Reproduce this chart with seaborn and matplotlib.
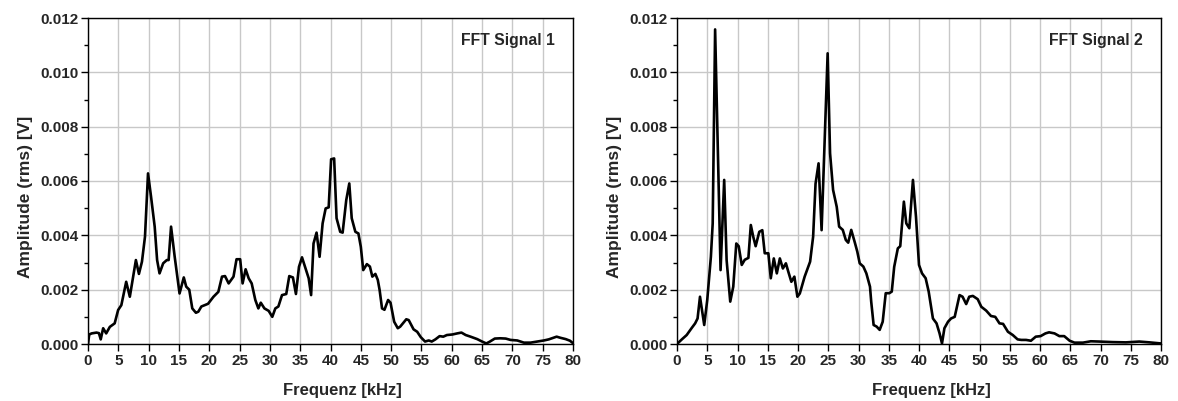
"""Two FFT amplitude spectra side by side."""

import matplotlib.pyplot as plt
import numpy as np
import pandas as pd
import seaborn as sns
from matplotlib.ticker import MultipleLocator

# frequency in kHz, amplitude in mV (rms)
freq_1 = [0.0, 0.2, 0.6, 1.4, 1.8, 2.1, 2.5, 3.0, 3.6, 4.4, 4.97, 5.5, 6.3, 6.9, 7.9,
          8.4, 8.9, 9.4, 9.9, 10.4, 11.0, 11.4, 11.8, 12.4, 13.0, 13.3, 13.7, 14.3,
          15.1, 15.8, 16.2, 16.7, 17.2, 17.8, 18.2, 18.7, 19.8, 20.7, 21.5, 22.1,
          22.6, 23.2, 24.0, 24.5, 25.1, 25.5, 26.0, 26.5, 27.0, 27.6, 28.1, 28.5,
          29.1, 29.8, 30.4, 30.9, 31.4, 32.0, 32.7, 33.2, 33.8, 34.3, 34.8, 35.3,
          35.8, 36.4, 36.8, 37.2, 37.7, 38.2, 38.7, 39.2, 39.7, 40.1, 40.6, 41.0,
          41.6, 42.0, 42.6, 43.1, 43.5, 44.1, 44.6, 45.0, 45.4, 46.0, 46.5, 46.9,
          47.4, 47.8, 48.1, 48.5, 48.9, 49.5, 49.9, 50.5, 51.1, 51.5, 52.5, 52.9,
          53.7, 54.3, 54.9, 55.6, 56.2, 56.7, 57.3, 58.0, 58.6, 59.2, 60.1, 60.9,
          61.6, 62.3, 63.1, 64.2, 65.0, 65.7, 66.3, 67.1, 68.0, 68.9, 69.7, 70.8,
          71.9, 73.0, 74.1, 75.2, 76.0, 77.3, 77.9, 78.8, 79.5, 80.0]
amp_1_mv = [0.0, 0.35, 0.39, 0.42, 0.40, 0.17, 0.58, 0.39, 0.63, 0.76, 1.25, 1.43,
            2.29, 1.74, 3.09, 2.58, 3.03, 3.95, 6.28, 5.42, 4.32, 3.09, 2.6, 2.97,
            3.09, 3.09, 4.32, 3.21, 1.86, 2.45, 2.11, 2.0, 1.31, 1.15, 1.19, 1.38,
            1.48, 1.74, 1.92, 2.48, 2.5, 2.23, 2.48, 3.12, 3.12, 2.23, 2.75, 2.42,
            2.23, 1.62, 1.31, 1.52, 1.31, 1.22, 1.0, 1.31, 1.38, 1.80, 1.84, 2.5,
            2.45, 1.84, 2.84, 3.19, 2.84, 2.42, 1.80, 3.7, 4.1, 3.21, 4.44, 4.99,
            5.03, 6.8, 6.83, 4.63, 4.13, 4.1, 5.3, 5.91, 4.63, 4.13, 4.07, 3.58,
            2.72, 2.94, 2.85, 2.48, 2.58, 2.36, 1.99, 1.31, 1.26, 1.62, 1.52, 0.82,
            0.58, 0.64, 0.91, 0.88, 0.54, 0.45, 0.25, 0.09, 0.13, 0.09, 0.17, 0.29,
            0.27, 0.33, 0.35, 0.39, 0.42, 0.33, 0.27, 0.18, 0.09, 0.02, 0.09, 0.2,
            0.21, 0.2, 0.15, 0.13, 0.05, 0.05, 0.09, 0.13, 0.17, 0.27, 0.23, 0.18,
            0.12, 0.03]

freq_2 = [0.0, 0.8, 1.6, 2.4, 3.0, 3.4, 3.8, 4.5, 5.0, 5.6, 5.9, 6.3, 7.2, 7.8, 8.2,
          8.8, 9.3, 9.8, 10.2, 10.7, 11.2, 11.8, 12.2, 12.6, 13.0, 13.6, 14.1, 14.5,
          15.1, 15.5, 16.0, 16.5, 17.0, 17.5, 18.0, 18.4, 18.9, 19.4, 19.9, 20.3,
          21.1, 22.0, 22.5, 22.9, 23.4, 23.9, 24.9, 25.3, 25.8, 26.4, 26.8, 27.4,
          27.9, 28.3, 28.8, 29.4, 29.8, 30.2, 30.8, 31.3, 31.9, 32.1, 32.5, 33.0,
          33.5, 34.0, 34.5, 35.1, 35.5, 35.9, 36.5, 36.9, 37.5, 37.9, 38.4, 39.0,
          39.5, 40.0, 40.5, 41.1, 41.6, 42.3, 42.9, 43.4, 43.8, 44.2, 44.8, 45.3,
          45.9, 46.7, 47.2, 47.8, 48.3, 48.9, 49.7, 50.3, 51.1, 51.9, 52.6, 53.3,
          53.9, 54.7, 55.5, 56.3, 56.9, 57.7, 58.5, 59.3, 60.1, 60.9, 61.5, 62.4,
          63.2, 64.0, 64.9, 65.7, 67.1, 68.4, 69.8, 72.0, 74.2, 76.4, 78.1, 80.0]
amp_2_mv = [0.0, 0.17, 0.33, 0.58, 0.76, 0.94, 1.74, 0.70, 1.62, 3.21, 4.44, 11.58,
            2.72, 6.04, 3.09, 1.56, 2.11, 3.7, 3.6, 2.91, 3.1, 3.17, 4.38, 3.95,
            3.6, 4.13, 4.19, 3.34, 3.34, 2.42, 3.15, 2.6, 3.15, 2.78, 2.97, 2.66,
            2.29, 2.48, 1.74, 1.86, 2.48, 3.03, 3.95, 5.9, 6.65, 4.19, 10.7, 7.02,
            5.67, 5.05, 4.32, 4.2, 3.83, 3.73, 4.2, 3.73, 3.4, 2.97, 2.85, 2.6,
            2.11, 1.56, 0.7, 0.64, 0.52, 0.82, 1.87, 1.87, 1.93, 2.84, 3.52, 3.6,
            5.24, 4.44, 4.26, 6.04, 4.69, 2.91, 2.6, 2.42, 1.93, 0.94, 0.76, 0.39,
            0.02, 0.58, 0.82, 0.94, 1.0, 1.80, 1.74, 1.47, 1.74, 1.77, 1.65, 1.37,
            1.23, 1.03, 1.0, 0.76, 0.74, 0.45, 0.33, 0.17, 0.15, 0.15, 0.12, 0.27,
            0.29, 0.39, 0.43, 0.39, 0.29, 0.29, 0.12, 0.05, 0.05, 0.1, 0.09, 0.07,
            0.06, 0.09, 0.06, 0.02]

panel_titles = ["FFT Signal 1", "FFT Signal 2"]
x_ticks = [0, 5, 10, 15, 20, 25, 30, 35, 40, 45, 50, 55, 60, 65, 70, 75, 80]

sns.set_style("whitegrid")
plt.rcParams["font.family"] = ["Liberation Sans", "DejaVu Sans"]
plt.rcParams["font.weight"] = "bold"

fig = plt.figure(figsize=(11.78, 4.01), dpi=100)
W, H = 1178, 401
boxes = [(88, 573), (677, 1161)]
top_px, bot_px = 18, 344

series = [(freq_1, amp_1_mv), (freq_2, amp_2_mv)]
for (x0, x1), (f, a), title in zip(boxes, series, panel_titles):
    ax = fig.add_axes([x0 / W, (H - bot_px) / H, (x1 - x0) / W, (bot_px - top_px) / H])
    df = pd.DataFrame({"freq": f, "amp": np.array(a) * 1e-3})
    sns.lineplot(data=df, x="freq", y="amp", ax=ax, color="black", lw=1.9,
                 sort=False, estimator=None)

    ax.set_xlim(0, 80)
    ax.set_ylim(0, 0.012)
    ax.set_xticks(x_ticks)
    ax.yaxis.set_major_locator(MultipleLocator(0.002))
    ax.yaxis.set_minor_locator(MultipleLocator(0.001))
    ax.yaxis.set_major_formatter(lambda v, _: f"{v:.3f}")
    ax.grid(True, which="major", color="#c8c8c8", lw=1.0)
    ax.grid(False, which="minor")
    for s in ax.spines.values():
        s.set_color("black")
        s.set_linewidth(1.0)
    ax.tick_params(axis="both", which="major", labelsize=11, direction="out",
                   length=5, width=1, color="black", pad=2, left=True, bottom=True)
    ax.tick_params(axis="y", which="minor", direction="out", length=3, width=1,
                   color="black", left=True)
    for lab in ax.get_xticklabels() + ax.get_yticklabels():
        lab.set_fontweight("bold")

    ax.set_xlabel("Frequenz [kHz]", fontsize=12, fontweight="bold")
    ax.set_ylabel("Amplitude (rms) [V]", fontsize=12.5, fontweight="bold")
    ax.xaxis.set_label_coords(0.525, -0.12)
    ax.yaxis.set_label_coords(-0.113, 0.45)
    ax.text(0.963, 0.93, title, transform=ax.transAxes, ha="right", va="center",
            fontsize=11.3, fontweight="bold")

fig.savefig("out.png", dpi=100)
plt.close(fig)
